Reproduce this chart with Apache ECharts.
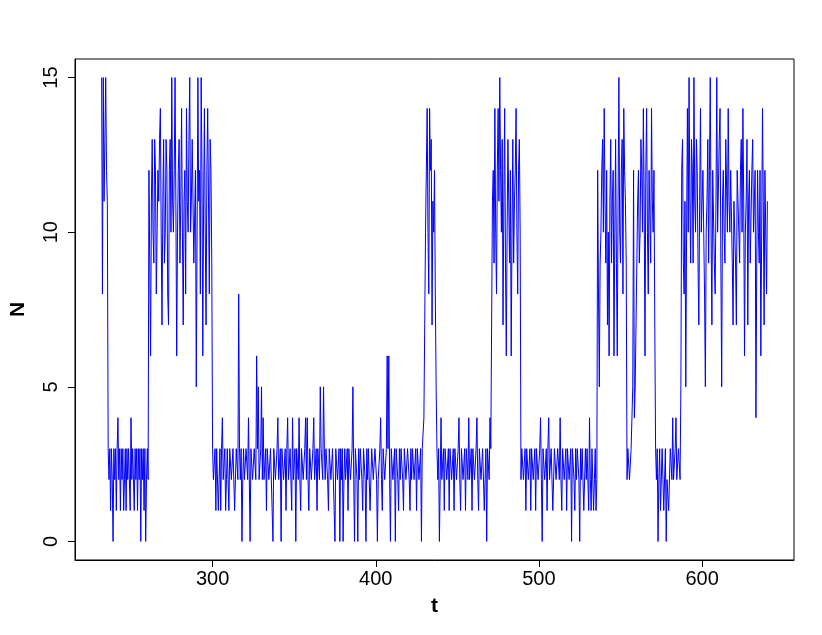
<!DOCTYPE html>
<html><head><meta charset="utf-8">
<script src="https://cdn.jsdelivr.net/npm/echarts@6/dist/echarts.min.js"></script>
<style>html,body{margin:0;padding:0;background:#fff}#c{width:822px;height:635px}</style>
</head><body><div id="c"></div>
<script>
// time of the first observation and spacing between observations
const tStart = 232;
const tStep = 0.5;
// N values, in consecutive phases (t = 232 ... 640)
const burst1 = [15,8,15,11,13,15,12,11];                                // 232-235.5
const quiet1 = [3,2,3,1,3,2,0,3,2,3, 1,3,4,2,3,1,3,2,3,1,
                2,3,1,3,2,3,2,1,4,2, 3,2,1,3,2,3,1,3,2,3,
                0,3,2,3,1,3,0,2,3,2];                                   // 236-260.5
const burst2 = [12,9,6,11,13,10,9,13,12,8, 8,12,11,13,14,10,7,11,13,9,
                10,13,12,8,7,12,13,10,15,11, 10,12,15,11,6,10,12,13,9,11,
                14,10,7,11,12,8,14,11,10,13, 15,10,11,13,13,9,9,12,5,10,
                15,11,12,8,15,12,6,11,14,10, 7,12,14,11,8,13,12,9];       // 261-299.5
const quiet2 = [3,2,2,3,1,3,3,1,2,3, 1,3,4,2,2,3,1,2,3,2,
                1,3,3,2,2,3,3,1,2,3, 3,2,8,3,2,3,0,2,3,2,
                2,3,3,2,4,2,0,3,3,2, 2,3,3,2,6,3,5,2,2,3,
                5,2,4,2,2,3,1,3,3,2, 2,3,3,1,0,3,3,2,2,3,
                4,2,2,3,0,3,3,2,2,3, 1,3,4,2,2,3,3,1,4,2,
                2,3,0,3,3,2,4,2,1,3, 3,2,2,3,4,2,4,2,1,3,
                3,2,2,3,4,2,2,3,1,3, 3,2,5,3,3,2,5,3,2,3,
                3,2,1,3,3,2,2,3,3,1, 0,3,3,2,2,3,0,3,2,3,
                0,2,3,2,2,3,1,3,3,2, 2,3,5,2,0,3,3,2,0,3,
                2,3,3,2,1,3,3,2,0,3, 2,3,3,1,1,3,3,2,2,3,
                3,2,0,2,2,3,4,2,1,3, 3,2,2,3,6,3,6,2,0,3,
                3,2,2,3,0,3,3,2,1,3, 2,3,3,2,1,3,3,2,2,3,
                3,2,1,3,2,3,3,2,2,3, 1,3,3,2,2,3,0,3,3,4,
                7,10];                                                  // 300-430.5
const burst3 = [12,14,10,8,14,12,13,7,11,10,12,8];                     // 431-436.5
const quiet3 = [5,3,2,3,0,2,4,2,2,3, 1,3,3,2,2,3,1,3,3,2,
                2,3,1,3,3,2,2,3,4,2, 1,3,3,2,2,3,1,3,3,2,
                4,2,2,3,1,3,3,2,2,3, 4,2,1,3,3,2,2,3,3,1,
                2,3,0,3,3,2,4,3];                                       // 437-470.5
const burst4 = [7,11,12,9,14,10,8,12,14,11, 15,12,10,13,7,11,14,9,6,10,
                13,11,9,12,6,10,13,9,11,12, 14,10,8,12,13,10];          // 471-488.5
const quiet4 = [2,3,3,2,2,3,1,3,3,2, 2,3,1,3,3,2,2,3,1,3,
                3,2,2,3,4,2,0,3,3,2, 2,3,1,3,4,2,2,3,3,1,
                1,3,3,2,2,3,3,2,4,2, 1,3,3,2,2,3,1,3,3,2,
                2,3,0,3,3,2,1,3,2,3, 3,2,0,3,2,3,3,1,1,3,
                2,3,3,1,4,2,1,3,3,1, 2,3,1,2];                          // 489-535.5
const burst5 = [12,8,5,9,10,12,13,10,14,11, 9,12,7,10,6,11,13,9,11,12,
                6,10,13,9,6,11,15,10,9,12, 13,8,14,12,11,9];            // 536-553.5
const burst6 = [2,3,3,2,2,3,4,5,12,4, 5,7,9,11,12,9,10,13,12,10,
                14,11,6,12,14,10,8,12,12,9, 14,11,10,12,7,3];           // 554-571.5
const quiet5 = [2,3,0,2,3,1,1,3,2,1, 1,3,0,2,2,1,1,3,3,2,
                4,2,2,3,4,2,2,3,3,2, 5,12,13,9,8,11,5,10];              // 572-590.5
const burst7 = [14,10,15,11,9,13,12,9,15,11, 10,13,12,9,7,11,14,10,10,12,
                12,8,5,10,11,13,9,12,15,10, 7,12,12,9,8,11,15,10,10,13,
                14,9,5,11,12,10,9,13,13,10, 14,11,10,12,12,9,7,11,11,9,
                7,12,12,10,9,12,13,10,14,11, 6,10,11,13,7,11,12,9,9,12,
                13,10,10,12,4,9,12,10,9,12, 6,10,14,11,7,12,12,8,11];    // 591-640
// axis tick labels
const xTicks = [300, 400, 500, 600];
const yTicks = [0, 5, 10, 15];

const N = [].concat(burst1, quiet1, burst2, quiet2, burst3, quiet3, burst4,
                    quiet4, burst5, burst6, quiet5, burst7);
const data = N.map((v, i) => [tStart + i * tStep, v]);
const tMin = tStart, tMax = tStart + (N.length - 1) * tStep;
const xPad = (tMax - tMin) * 0.04;
const yMax = Math.max.apply(null, N), yMin = Math.min.apply(null, N);
const yPad = (yMax - yMin) * 0.04;

const font = 'Liberation Sans, Arial, Helvetica, sans-serif';
const chart = echarts.init(document.getElementById('c'), null, {renderer: 'canvas'});
chart.setOption({
  animation: false,
  backgroundColor: '#fff',
  grid: {left: 70, right: 28, top: 59, bottom: 75, show: true,
         borderColor: '#000', borderWidth: 1, backgroundColor: 'transparent'},
  xAxis: {
    type: 'value', min: tMin - xPad, max: tMax + xPad,
    name: 't', nameLocation: 'middle', nameGap: 36,
    nameTextStyle: {fontWeight: 'bold', fontSize: 21, color: '#000', fontFamily: font},
    axisLine: {show: true, onZero: false, lineStyle: {color: '#000', width: 1}},
    splitLine: {show: false},
    axisTick: {show: true, customValues: xTicks, length: 7, inside: false,
               lineStyle: {color: '#000', width: 1}},
    axisLabel: {customValues: xTicks, fontSize: 20, color: '#000', margin: 9, fontFamily: font}
  },
  yAxis: {
    type: 'value', min: yMin - yPad, max: yMax + yPad,
    name: 'N', nameLocation: 'middle', nameGap: 46, nameRotate: 90,
    nameTextStyle: {fontWeight: 'bold', fontSize: 21, color: '#000', fontFamily: font},
    axisLine: {show: true, onZero: false, lineStyle: {color: '#000', width: 1}},
    splitLine: {show: false},
    axisTick: {show: true, customValues: yTicks, length: 7, inside: false,
               lineStyle: {color: '#000', width: 1}},
    axisLabel: {customValues: yTicks, fontSize: 20, color: '#000', margin: 14,
                rotate: 90, fontFamily: font}
  },
  series: [{
    type: 'line', data: data, showSymbol: false, silent: true,
    lineStyle: {color: '#0000ff', width: 1}
  }]
});
</script>
</body></html>
